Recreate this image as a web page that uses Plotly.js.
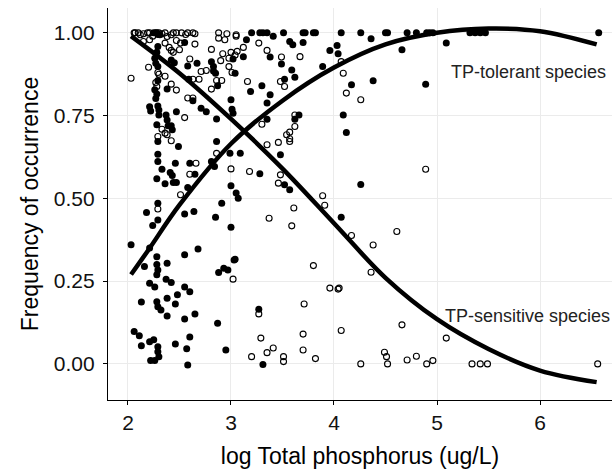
<!DOCTYPE html>
<html><head><meta charset="utf-8">
<script src="https://cdn.plot.ly/plotly-3.0.1.min.js"></script>
<style>html,body{margin:0;padding:0;background:#fff}#chart{width:616px;height:470px}</style>
</head><body><div id="chart"></div>
<script>
// TP-tolerant species (filled points)
const tolX = [2.25,2.28,2.29,2.31,2.27,3.20,3.28,3.31,3.35,3.41,3.51,3.57,3.60,3.70,3.72,3.80,3.82,4.07,4.26,4.36,4.50,4.52,4.71,4.80,4.90,4.93,4.96,5.09,5.32,5.37,5.42,5.47,6.57,
3.70,3.96,4.03,4.04,4.66,3.89,3.59,3.62,4.17,4.38,4.89,4.09,4.12,3.66,3.62,
2.29,2.55,3.15,3.38,3.49,2.28,2.26,2.27,2.67,2.42,2.45,2.81,2.83,3.02,3.12,2.29,2.58,2.83,2.85,3.04,
2.29,2.26,2.28,2.27,2.38,2.59,2.87,3.19,3.30,3.38,3.52,3.35,2.63,3.00,2.71,2.76,2.86,3.01,3.02,3.35,2.21,2.22,2.29,2.30,2.30,2.37,2.38,2.47,2.28,2.39,2.42,2.43,
2.29,2.49,2.29,2.29,2.46,2.33,2.60,2.41,2.43,2.65,2.28,2.36,2.44,2.47,2.58,2.86,2.81,2.84,2.99,3.09,3.00,3.05,3.07,2.91,2.29,2.18,2.55,2.64,2.29,2.24,2.85,3.00,2.03,2.68,2.21,3.04,
3.48,3.28,3.52,3.57,4.26,4.07,
2.28,2.55,2.16,2.28,2.29,2.28,2.38,2.88,2.93,2.97,3.03,2.21,2.26,2.37,2.42,2.55,2.60,2.48,2.13,2.28,2.29,2.32,2.38,2.46,2.38,2.55,2.65,2.87,2.06,2.11,2.13,2.21,2.25,2.29,2.29,2.30,2.22,2.26,2.46,2.60,2.57,2.58,2.95,3.27,3.31];
const tolY = [1.00,1.00,0.995,0.994,1.00,1.00,1.00,1.00,1.00,0.99,1.00,0.974,0.964,1.00,1.00,1.00,1.00,1.00,1.00,0.982,1.00,1.00,1.00,1.00,1.00,1.00,1.00,0.969,1.00,1.00,1.00,1.00,1.00,
0.971,0.947,0.962,0.937,0.949,0.898,0.888,0.866,0.843,0.855,0.845,0.752,0.699,0.752,0.739,
0.959,0.971,0.979,0.927,0.906,0.941,0.923,0.908,0.908,0.918,0.91,0.913,0.898,0.921,0.928,0.898,0.90,0.885,0.878,0.878,
0.856,0.828,0.815,0.802,0.83,0.86,0.84,0.823,0.84,0.813,0.86,0.788,0.795,0.798,0.772,0.762,0.740,0.769,0.757,0.739,0.777,0.764,0.779,0.767,0.752,0.752,0.737,0.762,0.722,0.719,0.719,0.707,
0.672,0.657,0.633,0.611,0.606,0.588,0.606,0.578,0.569,0.573,0.559,0.544,0.548,0.548,0.533,0.672,0.611,0.596,0.636,0.636,0.538,0.516,0.50,0.485,0.485,0.457,0.453,0.46,0.435,0.418,0.443,0.413,0.36,0.347,0.35,0.316,
0.632,0.574,0.541,0.526,0.542,0.443,
0.324,0.33,0.294,0.30,0.284,0.269,0.304,0.276,0.289,0.284,0.314,0.244,0.232,0.256,0.246,0.232,0.218,0.209,0.187,0.188,0.173,0.163,0.198,0.181,0.145,0.136,0.151,0.123,0.098,0.085,0.055,0.067,0.073,0.052,0.037,0.022,0.01,0.01,0.06,0.081,0.046,-0.003,0.042,0.165,-0.002];

// TP-sensitive species (open points)
const senX = [2.06,2.07,2.12,2.15,2.21,2.24,2.33,2.38,2.42,2.47,2.52,2.58,2.65,2.88,2.96,3.05,2.19,2.36,2.44,2.30,2.10,2.63,2.56,
2.15,2.21,2.36,2.40,2.42,2.47,2.51,2.65,2.50,2.88,2.94,3.05,3.27,3.35,3.49,2.81,2.44,2.60,2.92,3.00,3.06,3.12,2.90,2.98,3.04,2.20,2.29,2.30,2.71,2.76,2.98,3.01,2.03,2.36,2.27,2.28,2.42,2.47,2.63,2.69,2.81,2.86,2.91,3.16,3.48,3.52,2.58,2.63,2.55,3.30,3.54,3.62,2.33,2.36,2.29,2.38,2.42,
3.67,4.07,4.09,4.12,4.26,3.62,3.57,
2.86,3.00,2.66,2.60,2.51,2.29,3.35,3.46,3.57,3.57,3.18,3.48,3.46,3.37,3.61,3.59,4.89,3.89,3.91,4.17,4.38,4.61,3.02,3.80,4.36,3.96,4.04,4.05,3.71,4.66,4.07,3.70,5.09,3.70,3.82,4.49,4.51,4.26,4.52,4.71,4.80,4.90,4.96,5.34,5.42,5.49,6.56,3.27,3.29,3.20,3.35,3.41,3.51,3.51];
const senY = [1.00,1.00,0.994,0.997,1.00,0.99,0.997,0.989,0.994,1.00,1.00,1.00,0.997,1.00,0.997,0.994,1.00,1.00,1.00,1.00,1.00,1.00,0.995,
0.974,0.979,0.969,0.956,0.947,0.977,0.969,0.966,0.949,0.984,0.979,0.99,0.969,0.947,0.927,0.95,0.941,0.921,0.937,0.941,0.944,0.956,0.916,0.923,0.933,0.896,0.88,0.875,0.883,0.886,0.898,0.88,0.863,0.869,0.85,0.838,0.845,0.827,0.86,0.86,0.83,0.856,0.856,0.853,0.853,0.838,0.803,0.803,0.744,0.724,0.692,0.717,0.709,0.697,0.687,0.692,0.674,
0.928,0.913,0.878,0.818,0.798,0.752,0.70,
0.636,0.589,0.606,0.573,0.511,0.468,0.662,0.669,0.672,0.68,0.581,0.571,0.546,0.44,0.471,0.417,0.588,0.508,0.479,0.388,0.359,0.40,0.256,0.297,0.277,0.229,0.226,0.229,0.181,0.118,0.101,0.090,0.078,0.042,0.016,0.035,0.022,0.0,0.0,0.012,0.023,0.0,0.01,0.0,0.0,0.0,0.0,0.151,0.078,0.022,0.034,0.048,0.022,0.007];

// fitted curves
const tolCurveX = [2.03,2.2,2.5,3.0,3.5,4.0,4.5,5.0,5.5,6.0,6.55];
const tolCurveY = [0.27,0.345,0.48,0.665,0.795,0.895,0.965,1.0,1.013,1.005,0.965];
const senCurveX = [2.03,2.5,3.0,3.5,4.0,4.5,5.0,5.5,6.0,6.55];
const senCurveY = [0.99,0.878,0.74,0.59,0.425,0.26,0.135,0.045,-0.02,-0.055];

const xTicks = [2,3,4,5,6];
const yTicks = [0,0.25,0.5,0.75,1.0];
const yTickText = ["0.00","0.25","0.50","0.75","1.00"];

const data = [
  {x: senX, y: senY, type:'scatter', mode:'markers', marker:{symbol:'circle', size:6, color:'rgba(255,255,255,0)', line:{color:'#000', width:1.1}}, hoverinfo:'none'},
  {x: tolX, y: tolY, type:'scatter', mode:'markers', marker:{symbol:'circle', size:7, color:'#000', line:{width:0}}, hoverinfo:'none'},
  {x: tolCurveX, y: tolCurveY, type:'scatter', mode:'lines', line:{color:'#000', width:4.5, shape:'spline'}, hoverinfo:'none'},
  {x: senCurveX, y: senCurveY, type:'scatter', mode:'lines', line:{color:'#000', width:4.5, shape:'spline'}, hoverinfo:'none'}
];

const font = {family:'Liberation Sans, Arial, sans-serif', color:'#000'};
const layout = {
  width:616, height:470,
  margin:{l:108, r:4, t:8, b:70},
  paper_bgcolor:'#fff', plot_bgcolor:'#fff',
  showlegend:false,
  font: font,
  xaxis:{range:[1.806,6.699], tickvals:xTicks, ticktext:xTicks.map(String), showgrid:true, gridcolor:'#ebebeb', gridwidth:1,
    zeroline:false, showline:true, linecolor:'#000', linewidth:1.2, ticks:'outside', ticklen:4, tickcolor:'#000',
    tickfont:{size:21, color:'#111'}, title:{text:'log Total phosphorus (ug/L)', font:{size:23, color:'#000'}, standoff:14}},
  yaxis:{range:[-0.109,1.075], tickvals:yTicks, ticktext:yTickText, showgrid:true, gridcolor:'#ebebeb', gridwidth:1,
    zeroline:false, showline:true, linecolor:'#000', linewidth:1.2, ticks:'outside', ticklen:4, tickcolor:'#000', ticklabelstandoff:4,
    tickfont:{size:21, color:'#111'}, title:{text:'Frequency of occurrence', font:{size:23, color:'#000'}, standoff:8}},
  annotations:[
    {x:0.992, xref:'paper', y:0.882, yref:'y', text:'TP-tolerant species', showarrow:false, xanchor:'right', yanchor:'middle', font:{size:18, color:'#222'}},
    {x:1.0, xref:'paper', y:0.145, yref:'y', text:'TP-sensitive species', showarrow:false, xanchor:'right', yanchor:'middle', font:{size:18, color:'#222'}}
  ]
};
Plotly.newPlot('chart', data, layout, {staticPlot:true, displayModeBar:false});
</script></body></html>
